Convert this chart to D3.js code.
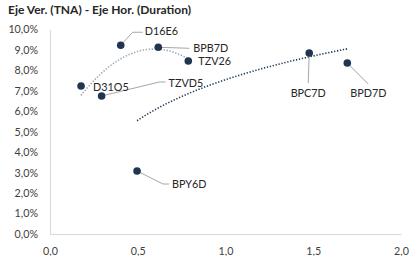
<!DOCTYPE html>
<html><head><meta charset="utf-8">
<script src="https://cdn.jsdelivr.net/npm/d3@7"></script>
<style>body{margin:0;background:#fff}svg{display:block}</style>
</head><body>
<svg id="c" width="414" height="256"></svg>
<script>
// data
const names   = ["D31O5","TZVD5","D16E6","BPY6D","BPB7D","TZV26","BPC7D","BPD7D"];
const duration= [0.177, 0.294, 0.403, 0.496, 0.617, 0.788, 1.477, 1.694];
const tna     = [0.0724,0.0675,0.0923,0.0308,0.0913,0.0846,0.0885,0.0836];
const groupA  = ["D31O5","TZVD5","D16E6","BPB7D","TZV26"];  // polynomial (order 2) trend
const groupB  = ["BPY6D","BPB7D","BPC7D","BPD7D"];          // logarithmic trend
const xTicks  = [0,0.5,1,1.5,2];
const yTicks  = [0,0.01,0.02,0.03,0.04,0.05,0.06,0.07,0.08,0.09,0.10];
const title   = "Eje Ver. (TNA) - Eje Hor. (Duration)";

// label layout (pixels relative to point)
const lab = {
  D16E6:{dx:24,dy:-14,a:"start",path:[[12,-13],[22,-13]]},
  BPB7D:{dx:35,dy:1,a:"start",path:[[31,1]]},
  TZV26:{dx:10,dy:0,a:"start",path:null},
  D31O5:{dx:12,dy:1,a:"start",path:null},
  TZVD5:{dx:67,dy:-13,a:"start",path:[[58,-14],[64,-14]]},
  BPC7D:{dx:-1,dy:40,a:"middle",path:[[-1,30]]},
  BPD7D:{dx:21,dy:30,a:"middle",path:[[21,21]]},
  BPY6D:{dx:35,dy:13,a:"start",path:[[26,13],[32,13]]}
};

const pts = names.map((n,i)=>({n,x:duration[i],y:tna[i]}));
const svg = d3.select("#c");
const font = "Lato, 'Open Sans', sans-serif";
const x = d3.scaleLinear().domain([0,2]).range([50,401]);
const y = d3.scaleLinear().domain([0,0.10]).range([234,29.5]);

svg.append("text").attr("x",8).attr("y",14).attr("font-family",font).attr("font-weight","bold")
  .attr("font-size",12).attr("fill","#262626").text(title);

// axes
const xa = svg.append("g").attr("transform","translate(0,234)")
  .call(d3.axisBottom(x).tickValues(xTicks).tickSize(0).tickPadding(13)
    .tickFormat(d=>d3.format(".1f")(d).replace(".",",")));
const ya = svg.append("g").attr("transform","translate(50,0)")
  .call(d3.axisLeft(y).tickValues(yTicks).tickSize(0).tickPadding(12)
    .tickFormat(d=>d3.format(".1%")(d).replace(".",",")));
[xa,ya].forEach(g=>{
  g.select(".domain").attr("stroke","#d9d9d9").attr("stroke-width",1.2);
  g.selectAll("text").attr("font-family",font).attr("font-size",10.7).attr("fill","#404040");
});

// trend lines computed from data
function polyFit(P){ // least squares quadratic
  let S=[0,0,0,0,0],T=[0,0,0];
  P.forEach(p=>{for(let k=0;k<5;k++)S[k]+=Math.pow(p.x,k);for(let k=0;k<3;k++)T[k]+=p.y*Math.pow(p.x,k);});
  const M=[[S[0],S[1],S[2],T[0]],[S[1],S[2],S[3],T[1]],[S[2],S[3],S[4],T[2]]];
  for(let i=0;i<3;i++){for(let j=i+1;j<3;j++){const f=M[j][i]/M[i][i];for(let k=i;k<4;k++)M[j][k]-=f*M[i][k];}}
  const c=[0,0,0];for(let i=2;i>=0;i--){let s=M[i][3];for(let k=i+1;k<3;k++)s-=M[i][k]*c[k];c[i]=s/M[i][i];}
  return v=>c[0]+c[1]*v+c[2]*v*v;
}
function logFit(P){
  const lx=P.map(p=>Math.log(p.x)),mx=d3.mean(lx),my=d3.mean(P,p=>p.y);
  let sxy=0,sxx=0;P.forEach((p,i)=>{sxy+=(lx[i]-mx)*(p.y-my);sxx+=(lx[i]-mx)**2;});
  const b=sxy/sxx,a=my-b*mx;return v=>a+b*Math.log(v);
}
function trend(group,fit,color){
  const P=pts.filter(p=>group.includes(p.n));const f=fit(P);
  const [x0,x1]=d3.extent(P,p=>p.x);
  const xs=d3.range(0,61).map(i=>x0+(x1-x0)*i/60);
  svg.append("path").attr("d",d3.line().x(v=>x(v)).y(v=>y(f(v)))(xs))
    .attr("fill","none").attr("stroke",color).attr("stroke-width",1.6)
    .attr("stroke-dasharray","1.3,1.7");
}
trend(groupA,polyFit,"#9ba6b2");
trend(groupB,logFit,"#1f3b57");

// leader lines
pts.forEach(p=>{
  const L=lab[p.n];if(!L.path)return;
  const px=x(p.x),py=y(p.y);
  const arr=[[px,py]].concat(L.path.map(q=>[px+q[0],py+q[1]]));
  svg.append("path").attr("d",d3.line()(arr)).attr("fill","none").attr("stroke","#a6a6a6").attr("stroke-width",1);
});
// points
svg.selectAll("circle.pt").data(pts).enter().append("circle")
  .attr("cx",d=>x(d.x)).attr("cy",d=>y(d.y)).attr("r",3.8).attr("fill","#1f3550");
// labels
svg.selectAll("text.lb").data(pts).enter().append("text")
  .attr("x",d=>x(d.x)+lab[d.n].dx).attr("y",d=>y(d.y)+lab[d.n].dy).attr("dy","0.35em")
  .attr("text-anchor",d=>lab[d.n].a).attr("font-family",font).attr("font-size",10.8)
  .attr("fill","#262626").text(d=>d.n);
</script>
</body></html>
